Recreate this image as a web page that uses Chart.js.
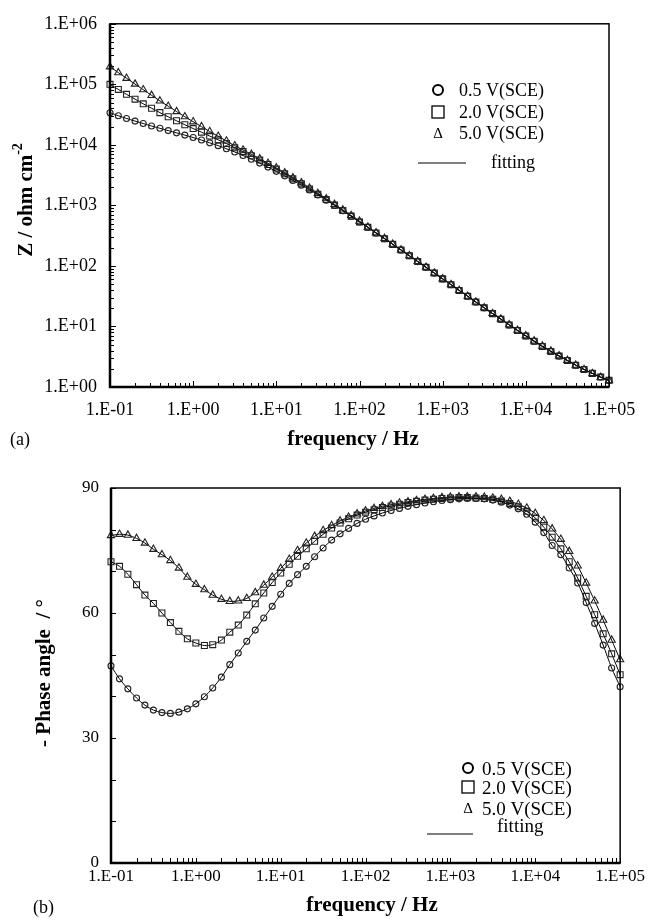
<!DOCTYPE html>
<html>
<head>
<meta charset="utf-8">
<script src="https://cdn.jsdelivr.net/npm/chart.js@4.4.1/dist/chart.umd.min.js"></script>
<style>
  body { margin: 0; background: #fff; }
  canvas { display: block; }
</style>
</head>
<body>
<canvas id="bodeZ" width="648" height="460"></canvas>
<canvas id="bodePhase" width="648" height="461"></canvas>
<script>
// frequencies (Hz), 10 points per decade
const freq = [
  0.1, 0.126, 0.158, 0.2, 0.251, 0.316, 0.398, 0.501, 0.631, 0.794,
  1, 1.26, 1.58, 2, 2.51, 3.16, 3.98, 5.01, 6.31, 7.94,
  10, 12.6, 15.8, 20, 25.1, 31.6, 39.8, 50.1, 63.1, 79.4,
  100, 126, 158, 200, 251, 316, 398, 501, 631, 794,
  1000, 1260, 1580, 2000, 2510, 3160, 3980, 5010, 6310, 7940,
  10000, 12600, 15800, 20000, 25100, 31600, 39800, 50100, 63100, 79400,
  100000
];

// |Z| in ohm cm2
const z05 = [
  3.40e4, 3.03e4, 2.73e4, 2.47e4, 2.25e4, 2.05e4, 1.88e4, 1.72e4, 1.58e4, 1.45e4,
  1.32e4, 1.20e4, 1.08e4, 9.70e3, 8.63e3, 7.62e3, 6.67e3, 5.79e3, 5.00e3, 4.29e3,
  3.65e3, 3.08e3, 2.59e3, 2.16e3, 1.80e3, 1.49e3, 1.22e3, 1.00e3, 815, 662,
  531, 434, 350, 282, 227, 183, 147, 118, 94.8, 76.2,
  61.1, 49.0, 39.3, 31.5, 25.3, 20.3, 16.3, 13.2, 10.6, 8.59,
  6.97, 5.69, 4.68, 3.87, 3.24, 2.74, 2.29, 1.95, 1.68, 1.46,
  1.29
];
const z20 = [
  1.00e5, 8.24e4, 6.84e4, 5.69e4, 4.76e4, 4.03e4, 3.41e4, 2.91e4, 2.50e4, 2.15e4,
  1.86e4, 1.62e4, 1.40e4, 1.21e4, 1.05e4, 8.97e3, 7.73e3, 6.61e3, 5.61e3, 4.74e3,
  3.98e3, 3.32e3, 2.75e3, 2.28e3, 1.87e3, 1.53e3, 1.25e3, 1.01e3, 822, 665,
  533, 434, 350, 282, 227, 183, 147, 118, 94.8, 76.2,
  61.1, 49.0, 39.3, 31.5, 25.3, 20.3, 16.3, 13.2, 10.6, 8.59,
  6.97, 5.69, 4.68, 3.87, 3.24, 2.74, 2.29, 1.95, 1.68, 1.46,
  1.29
];
const z50 = [
  1.95e5, 1.56e5, 1.26e5, 1.01e5, 8.15e4, 6.58e4, 5.33e4, 4.35e4, 3.55e4, 2.92e4,
  2.41e4, 2.00e4, 1.66e4, 1.39e4, 1.16e4, 9.68e3, 8.24e3, 6.98e3, 5.90e3, 4.97e3,
  4.16e3, 3.46e3, 2.86e3, 2.36e3, 1.93e3, 1.58e3, 1.29e3, 1.04e3, 843, 682,
  550, 440, 354, 285, 229, 184, 148, 119, 95.3, 76.5,
  61.3, 49.2, 39.4, 31.6, 25.4, 20.4, 16.4, 13.3, 10.7, 8.68,
  7.06, 5.78, 4.76, 3.93, 3.28, 2.76, 2.30, 1.95, 1.67, 1.44,
  1.27
];

// -phase angle in degrees
const p05 = [
  47.3, 44.2, 41.8, 39.6, 37.9, 36.7, 36.1, 35.9, 36.2, 37.0,
  38.2, 39.9, 42.0, 44.6, 47.6, 50.4, 53.2, 55.9, 58.8, 61.6,
  64.5, 67.1, 69.2, 71.2, 73.5, 75.6, 77.5, 79.0, 80.3, 81.5,
  82.5, 83.3, 84.0, 84.6, 85.1, 85.6, 86.0, 86.4, 86.7, 87.0,
  87.2, 87.4, 87.5, 87.5, 87.4, 87.1, 86.6, 85.9, 85.0, 83.7,
  81.8, 79.3, 76.2, 74.0, 70.8, 67.2, 62.5, 57.5, 52.3, 46.8,
  42.3
];
const p20 = [
  72.3, 71.2, 69.3, 66.8, 64.3, 62.3, 60.0, 57.7, 55.6, 53.8,
  52.8, 52.2, 52.4, 53.5, 55.4, 57.1, 59.5, 62.2, 64.8, 67.3,
  69.6, 71.7, 73.6, 75.4, 77.2, 78.9, 80.4, 81.6, 82.6, 83.5,
  84.2, 84.8, 85.3, 85.7, 86.1, 86.5, 86.8, 87.1, 87.3, 87.5,
  87.6, 87.7, 87.7, 87.6, 87.5, 87.3, 86.9, 86.3, 85.5, 84.4,
  82.8, 80.6, 78.2, 75.4, 72.3, 68.4, 64.0, 59.6, 55.0, 50.2,
  45.2
];
const p50 = [
  78.6, 78.9, 78.7, 77.9, 76.8, 75.3, 74.0, 72.6, 70.8, 68.6,
  66.9, 65.6, 64.3, 63.3, 62.8, 62.9, 63.5, 64.9, 66.7, 68.6,
  70.7, 72.9, 75.0, 76.8, 78.4, 79.8, 81.0, 82.1, 83.0, 83.8,
  84.5, 85.1, 85.6, 86.0, 86.4, 86.7, 87.0, 87.3, 87.5, 87.7,
  87.8, 87.9, 87.9, 87.9, 87.8, 87.6, 87.3, 86.8, 86.1, 85.2,
  83.9, 82.2, 80.2, 77.7, 74.8, 71.3, 67.2, 62.9, 58.3, 53.5,
  48.8
];

const seriesNames = ['0.5 V(SCE)', '2.0 V(SCE)', '5.0 V(SCE)'];
const markerStyles = ['circle', 'rect', 'triangle'];
const markerRadius = [3, 4.2, 4.2];

// axis ticks
const freqDecades = [0.1, 1, 10, 100, 1000, 10000, 100000];
const freqTickLabels = ['1.E-01', '1.E+00', '1.E+01', '1.E+02', '1.E+03', '1.E+04', '1.E+05'];
const zDecades = [1, 10, 100, 1000, 10000, 100000, 1000000];
const zTickLabels = ['1.E+00', '1.E+01', '1.E+02', '1.E+03', '1.E+04', '1.E+05', '1.E+06'];
const phaseTicks = [0, 10, 20, 30, 40, 50, 60, 70, 80, 90];
const phaseTickLabels = ['0', '', '', '30', '', '', '60', '', '', '90'];

const SERIF = "'Liberation Serif', 'Times New Roman', serif";

// log ticks: decades plus 2..9 in between
function logTicks(decades) {
  const out = [];
  decades.forEach((d, i) => {
    out.push({ value: d });
    if (i < decades.length - 1) {
      for (let m = 2; m <= 9; m++) out.push({ value: d * m });
    }
  });
  return out;
}

function labelFor(decades, labels) {
  return v => {
    const i = decades.findIndex(d => Math.abs(d - v) / d < 1e-6);
    return i >= 0 ? labels[i] : '';
  };
}

function makeSets(ys) {
  return ys.map((vals, i) => ({
    label: seriesNames[i],
    data: freq.map((f, k) => ({ x: f, y: vals[k] })),
    showLine: true,
    borderColor: '#000',
    borderWidth: 1,
    tension: 0.3,
    pointStyle: markerStyles[i],
    pointRadius: markerRadius[i],
    pointBorderColor: '#222',
    pointBackgroundColor: 'rgba(0,0,0,0)',
    pointBorderWidth: 1.1,
    clip: 10
  }));
}

function drawSymbol(ctx, style, x, y) {
  ctx.save();
  ctx.strokeStyle = '#000';
  if (style === 'circle') {
    ctx.lineWidth = 2;
    ctx.beginPath();
    ctx.arc(x, y, 5, 0, Math.PI * 2);
    ctx.stroke();
  } else if (style === 'rect') {
    ctx.lineWidth = 1.3;
    ctx.strokeRect(x - 6, y - 6, 12, 12);
  } else {
    ctx.fillStyle = '#000';
    ctx.font = `15px ${SERIF}`;
    ctx.textAlign = 'center';
    ctx.textBaseline = 'middle';
    ctx.fillText('\u0394', x, y + 1);
  }
  ctx.restore();
}

// frame, inward ticks, axis titles, legend
const decor = {
  id: 'decor',
  afterDraw(chart, args, o) {
    const { ctx, chartArea: a } = chart;
    const xs = chart.scales.x, ys = chart.scales.y;
    ctx.save();
    ctx.strokeStyle = '#000';
    ctx.lineWidth = 1.5;
    ctx.strokeRect(a.left, a.top, a.right - a.left, a.bottom - a.top);
    ctx.lineWidth = 2.5;
    ctx.beginPath();
    ctx.moveTo(a.left, a.top);
    ctx.lineTo(a.left, a.bottom);
    ctx.lineTo(a.right, a.bottom);
    ctx.stroke();

    ctx.lineWidth = 1;
    ctx.beginPath();
    xs.ticks.forEach(t => {
      const px = Math.round(xs.getPixelForValue(t.value)) + 0.5;
      const len = t.label ? o.xMajor : o.xMinor;
      ctx.moveTo(px, a.bottom);
      ctx.lineTo(px, a.bottom - len);
    });
    ys.ticks.forEach(t => {
      const py = Math.round(ys.getPixelForValue(t.value)) + 0.5;
      const len = t.label ? o.yMajor : o.yMinor;
      ctx.moveTo(a.left, py);
      ctx.lineTo(a.left + len, py);
    });
    ctx.stroke();

    ctx.fillStyle = '#000';
    ctx.textBaseline = 'middle';
    ctx.textAlign = 'center';
    ctx.font = `bold ${o.titleSize}px ${SERIF}`;
    ctx.fillText(o.xTitle, o.xTitleX, o.xTitleY);

    ctx.textAlign = 'left';
    ctx.font = `${o.panelSize}px ${SERIF}`;
    ctx.fillText(o.panel, o.panelX, o.panelY);

    // rotated y title
    ctx.save();
    ctx.translate(o.yTitleX, o.yTitleY);
    ctx.rotate(-Math.PI / 2);
    const mainFont = `bold ${o.titleSize}px ${SERIF}`;
    const supFont = `bold ${Math.round(o.titleSize * 0.65)}px ${SERIF}`;
    ctx.font = mainFont;
    const w1 = ctx.measureText(o.yTitle).width;
    ctx.font = supFont;
    const w2 = o.yTitleSup ? ctx.measureText(o.yTitleSup).width : 0;
    const x0 = -(w1 + w2) / 2;
    ctx.font = mainFont;
    ctx.fillText(o.yTitle, x0, 0);
    if (o.yTitleSup) {
      ctx.font = supFont;
      ctx.fillText(o.yTitleSup, x0 + w1, -o.titleSize * 0.4);
    }
    ctx.restore();

    // legend
    const L = o.legend;
    ctx.font = `${L.size}px ${SERIF}`;
    ctx.textBaseline = 'alphabetic';
    seriesNames.forEach((name, i) => {
      drawSymbol(ctx, markerStyles[i], L.symX, L.rows[i]);
      ctx.fillText(name, L.textX, L.rows[i] + L.baseOff);
    });
    ctx.lineWidth = 1.2;
    ctx.beginPath();
    ctx.moveTo(L.lineX0, L.lineY);
    ctx.lineTo(L.lineX1, L.lineY);
    ctx.stroke();
    ctx.fillText('fitting', L.fitX, L.fitBase);
    ctx.restore();
  }
};

function baseOptions(cfg) {
  return {
    responsive: false,
    animation: false,
    devicePixelRatio: 1,
    events: [],
    layout: { padding: cfg.padding },
    plugins: {
      legend: { display: false },
      tooltip: { enabled: false },
      decor: cfg.decor
    },
    scales: {
      x: {
        type: 'logarithmic',
        min: 0.1,
        max: 100000,
        grid: { display: false, drawTicks: false },
        border: { display: false },
        afterBuildTicks: s => { s.ticks = logTicks(freqDecades); },
        afterFit: s => { s.height = cfg.xHeight; },
        ticks: {
          autoSkip: false,
          maxRotation: 0,
          padding: cfg.xPad,
          color: '#000',
          font: { family: SERIF, size: cfg.xFont },
          callback: labelFor(freqDecades, freqTickLabels)
        }
      },
      y: cfg.y
    }
  };
}

new Chart(document.getElementById('bodeZ'), {
  type: 'scatter',
  data: { datasets: makeSets([z05, z20, z50]) },
  plugins: [decor],
  options: baseOptions({
    padding: { left: 0, right: 39, top: 22, bottom: 23 },
    xHeight: 50,
    xPad: 12,
    xFont: 18,
    y: {
      type: 'logarithmic',
      min: 1,
      max: 1000000,
      grid: { display: false, drawTicks: false },
      border: { display: false },
      afterBuildTicks: s => { s.ticks = logTicks(zDecades); },
      afterFit: s => { s.width = 110; },
      ticks: {
        autoSkip: false,
        padding: 13,
        color: '#000',
        font: { family: SERIF, size: 18 },
        callback: labelFor(zDecades, zTickLabels)
      }
    },
    decor: {
      xMajor: 6, xMinor: 4, yMajor: 6, yMinor: 4,
      titleSize: 21,
      xTitle: 'frequency / Hz', xTitleX: 353, xTitleY: 440,
      panel: '(a)', panelX: 10, panelY: 440, panelSize: 18,
      yTitle: 'Z / ohm cm', yTitleSup: '-2', yTitleX: 27, yTitleY: 200,
      legend: {
        size: 18, symX: 438, rows: [90, 112, 133], baseOff: 6, textX: 459,
        lineX0: 418, lineX1: 466, lineY: 163, fitX: 491, fitBase: 168
      }
    }
  })
});

new Chart(document.getElementById('bodePhase'), {
  type: 'scatter',
  data: { datasets: makeSets([p05, p20, p50]) },
  plugins: [decor],
  options: baseOptions({
    padding: { left: 0, right: 27, top: 28, bottom: 18 },
    xHeight: 40,
    xPad: 3,
    xFont: 17,
    y: {
      type: 'linear',
      min: 0,
      max: 90,
      grid: { display: false, drawTicks: false },
      border: { display: false },
      afterBuildTicks: s => { s.ticks = phaseTicks.map(v => ({ value: v })); },
      afterFit: s => { s.width = 111; },
      ticks: {
        autoSkip: false,
        padding: 12,
        color: '#000',
        font: { family: SERIF, size: 17 },
        callback: v => phaseTickLabels[phaseTicks.indexOf(v)] || ''
      }
    },
    decor: {
      xMajor: 5, xMinor: 5, yMajor: 5, yMinor: 5,
      titleSize: 21,
      xTitle: 'frequency / Hz', xTitleX: 372, xTitleY: 446,
      panel: '(b)', panelX: 33, panelY: 448, panelSize: 18,
      yTitle: '- Phase angle  / \u00b0', yTitleSup: '', yTitleX: 45, yTitleY: 213,
      legend: {
        size: 19, symX: 468, rows: [308, 327, 348], baseOff: 7, textX: 482,
        lineX0: 427, lineX1: 473, lineY: 374, fitX: 497, fitBase: 372
      }
    }
  })
});
</script>
</body>
</html>
